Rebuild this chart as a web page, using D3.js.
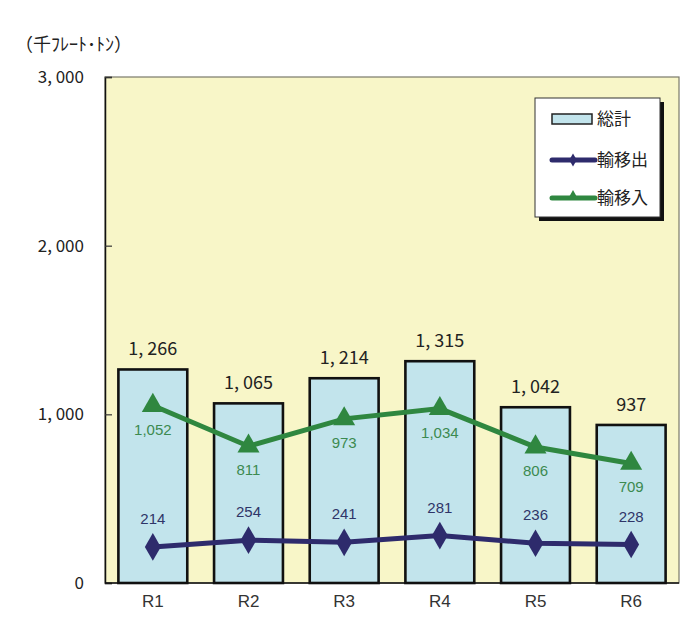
<!DOCTYPE html>
<html>
<head>
<meta charset="utf-8">
<script src="https://cdn.jsdelivr.net/npm/d3@7.9.0/dist/d3.min.js"></script>
<style>
  body { margin: 0; background: #fff; }
</style>
</head>
<body>
<svg id="chart" width="695" height="636" font-family='"Noto Sans CJK JP", "Noto Sans", sans-serif'></svg>
<script>
// ─── Data ───────────────────────────────────────────────────────────────────
const years = ['R1', 'R2', 'R3', 'R4', 'R5', 'R6'];
const totals = [1266, 1065, 1214, 1315, 1042, 937];     // 総計
const outbound = [214, 254, 241, 281, 236, 228];        // 輸移出
const inbound = [1052, 811, 973, 1034, 806, 709];       // 輸移入
const yTicks = [0, 1000, 2000, 3000];
const unitLabel = '（千ﾌﾚｰﾄ･ﾄﾝ）';

// ─── Layout ─────────────────────────────────────────────────────────────────
const plot = { left: 105, top: 77, right: 679, bottom: 583 };
const colors = {
    bg: '#f8f6c8',
    bar: '#c2e4ec',
    green: '#2f8740',
    navy: '#2e2b6c',
    greenText: '#3c8a50',
    navyText: '#2f3568'
};
const latin = '"Liberation Sans", Arial, sans-serif';

const svg = d3.select('#chart');

const x = d3.scaleBand()
    .domain(years)
    .range([plot.left, plot.right])
    .paddingInner(0.28)
    .paddingOuter(0.14);

const y = d3.scaleLinear()
    .domain([0, 3000])
    .range([plot.bottom, plot.top]);

const fmtSpaced = v => d3.format(',')(v).replace(',', ', ');

// plot background
svg.append('rect')
    .attr('x', plot.left).attr('y', plot.top)
    .attr('width', plot.right - plot.left)
    .attr('height', plot.bottom - plot.top)
    .attr('fill', colors.bg)
    .attr('stroke', '#7a7a6a')
    .attr('stroke-width', 1.2);

// y axis (ticks inside)
const yAxis = d3.axisLeft(y).tickValues(yTicks).tickSize(-7).tickFormat(() => '');
const yg = svg.append('g').attr('transform', `translate(${plot.left},0)`).call(yAxis);
yg.select('.domain').attr('stroke', '#111').attr('stroke-width', 1.5);
yg.selectAll('.tick line').attr('stroke', '#333').attr('stroke-width', 1.2);

svg.selectAll('.ytick')
    .data(yTicks)
    .join('text')
    .attr('class', 'ytick')
    .attr('x', 84)
    .attr('y', d => y(d) + 6)
    .attr('text-anchor', 'end')
    .attr('font-size', 17)
    .attr('fill', '#222')
    .text(d => fmtSpaced(d));

svg.append('text')
    .attr('x', 15).attr('y', 51)
    .attr('font-size', 18)
    .attr('fill', '#222')
    .text(unitLabel);

// bars
svg.selectAll('.bar')
    .data(years)
    .join('rect')
    .attr('class', 'bar')
    .attr('x', d => x(d))
    .attr('y', (d, i) => y(totals[i]))
    .attr('width', x.bandwidth())
    .attr('height', (d, i) => y(0) - y(totals[i]))
    .attr('fill', colors.bar)
    .attr('stroke', '#111')
    .attr('stroke-width', 2.6);

// x axis baseline
svg.append('line')
    .attr('x1', plot.left).attr('x2', plot.right)
    .attr('y1', plot.bottom).attr('y2', plot.bottom)
    .attr('stroke', '#111').attr('stroke-width', 1.5);

const cx = d => x(d) + x.bandwidth() / 2;

// total labels
svg.selectAll('.total-label')
    .data(years)
    .join('text')
    .attr('class', 'total-label')
    .attr('x', d => cx(d))
    .attr('y', (d, i) => y(totals[i]) - 14)
    .attr('text-anchor', 'middle')
    .attr('font-size', 18)
    .attr('fill', '#222')
    .text((d, i) => fmtSpaced(totals[i]));

// x labels
svg.selectAll('.xlabel')
    .data(years)
    .join('text')
    .attr('class', 'xlabel')
    .attr('x', d => cx(d))
    .attr('y', 607)
    .attr('text-anchor', 'middle')
    .attr('font-size', 17)
    .attr('font-family', latin)
    .attr('fill', '#333')
    .text(d => d);

// lines
const line = d3.line().x((d, i) => cx(years[i])).y(d => y(d));

svg.append('path')
    .datum(inbound)
    .attr('d', line)
    .attr('fill', 'none')
    .attr('stroke', colors.green)
    .attr('stroke-width', 5);

svg.append('path')
    .datum(outbound)
    .attr('d', line)
    .attr('fill', 'none')
    .attr('stroke', colors.navy)
    .attr('stroke-width', 5);

const tri = d3.symbol().type(d3.symbolTriangle).size(210);
const dia = d3.symbol().type(d3.symbolDiamond).size(220);

svg.selectAll('.tri')
    .data(inbound)
    .join('path')
    .attr('class', 'tri')
    .attr('d', tri)
    .attr('transform', (d, i) => `translate(${cx(years[i])},${y(d)})`)
    .attr('fill', colors.green);

svg.selectAll('.dia')
    .data(outbound)
    .join('path')
    .attr('class', 'dia')
    .attr('d', dia)
    .attr('transform', (d, i) => `translate(${cx(years[i])},${y(d)})`)
    .attr('fill', colors.navy);

svg.selectAll('.in-label')
    .data(inbound)
    .join('text')
    .attr('class', 'in-label')
    .attr('x', (d, i) => cx(years[i]))
    .attr('y', d => y(d) + 29)
    .attr('text-anchor', 'middle')
    .attr('font-size', 15)
    .attr('font-family', latin)
    .attr('fill', colors.greenText)
    .text(d => d3.format(',')(d));

svg.selectAll('.out-label')
    .data(outbound)
    .join('text')
    .attr('class', 'out-label')
    .attr('x', (d, i) => cx(years[i]))
    .attr('y', d => y(d) - 23)
    .attr('text-anchor', 'middle')
    .attr('font-size', 15)
    .attr('font-family', latin)
    .attr('fill', colors.navyText)
    .text(d => d);

// ─── Legend ─────────────────────────────────────────────────────────────────
const lg = svg.append('g').attr('transform', 'translate(535,98)');
lg.append('rect').attr('x', 4).attr('y', 4).attr('width', 125).attr('height', 119).attr('fill', '#111');
lg.append('rect').attr('width', 125).attr('height', 119).attr('fill', '#fff').attr('stroke', '#333').attr('stroke-width', 1);

const legendItems = ['総計', '輸移出', '輸移入'];
const rowY = [21, 62, 100];

lg.append('rect')
    .attr('x', 17).attr('y', rowY[0] - 5).attr('width', 40).attr('height', 10)
    .attr('fill', colors.bar).attr('stroke', '#222').attr('stroke-width', 1.5);

lg.append('line').attr('x1', 17).attr('x2', 60).attr('y1', rowY[1]).attr('y2', rowY[1])
    .attr('stroke', colors.navy).attr('stroke-width', 5).attr('stroke-linecap', 'round');
lg.append('path').attr('d', d3.symbol().type(d3.symbolDiamond).size(50))
    .attr('transform', `translate(38,${rowY[1]})`).attr('fill', colors.navy);

lg.append('line').attr('x1', 17).attr('x2', 60).attr('y1', rowY[2]).attr('y2', rowY[2])
    .attr('stroke', colors.green).attr('stroke-width', 5).attr('stroke-linecap', 'round');
lg.append('path').attr('d', d3.symbol().type(d3.symbolTriangle).size(45))
    .attr('transform', `translate(38,${rowY[2] - 2})`).attr('fill', colors.green);

lg.selectAll('.legend-text')
    .data(legendItems)
    .join('text')
    .attr('class', 'legend-text')
    .attr('x', 62)
    .attr('y', (d, i) => rowY[i] + 6)
    .attr('font-size', 17)
    .attr('fill', '#222')
    .text(d => d);
</script>
</body>
</html>
